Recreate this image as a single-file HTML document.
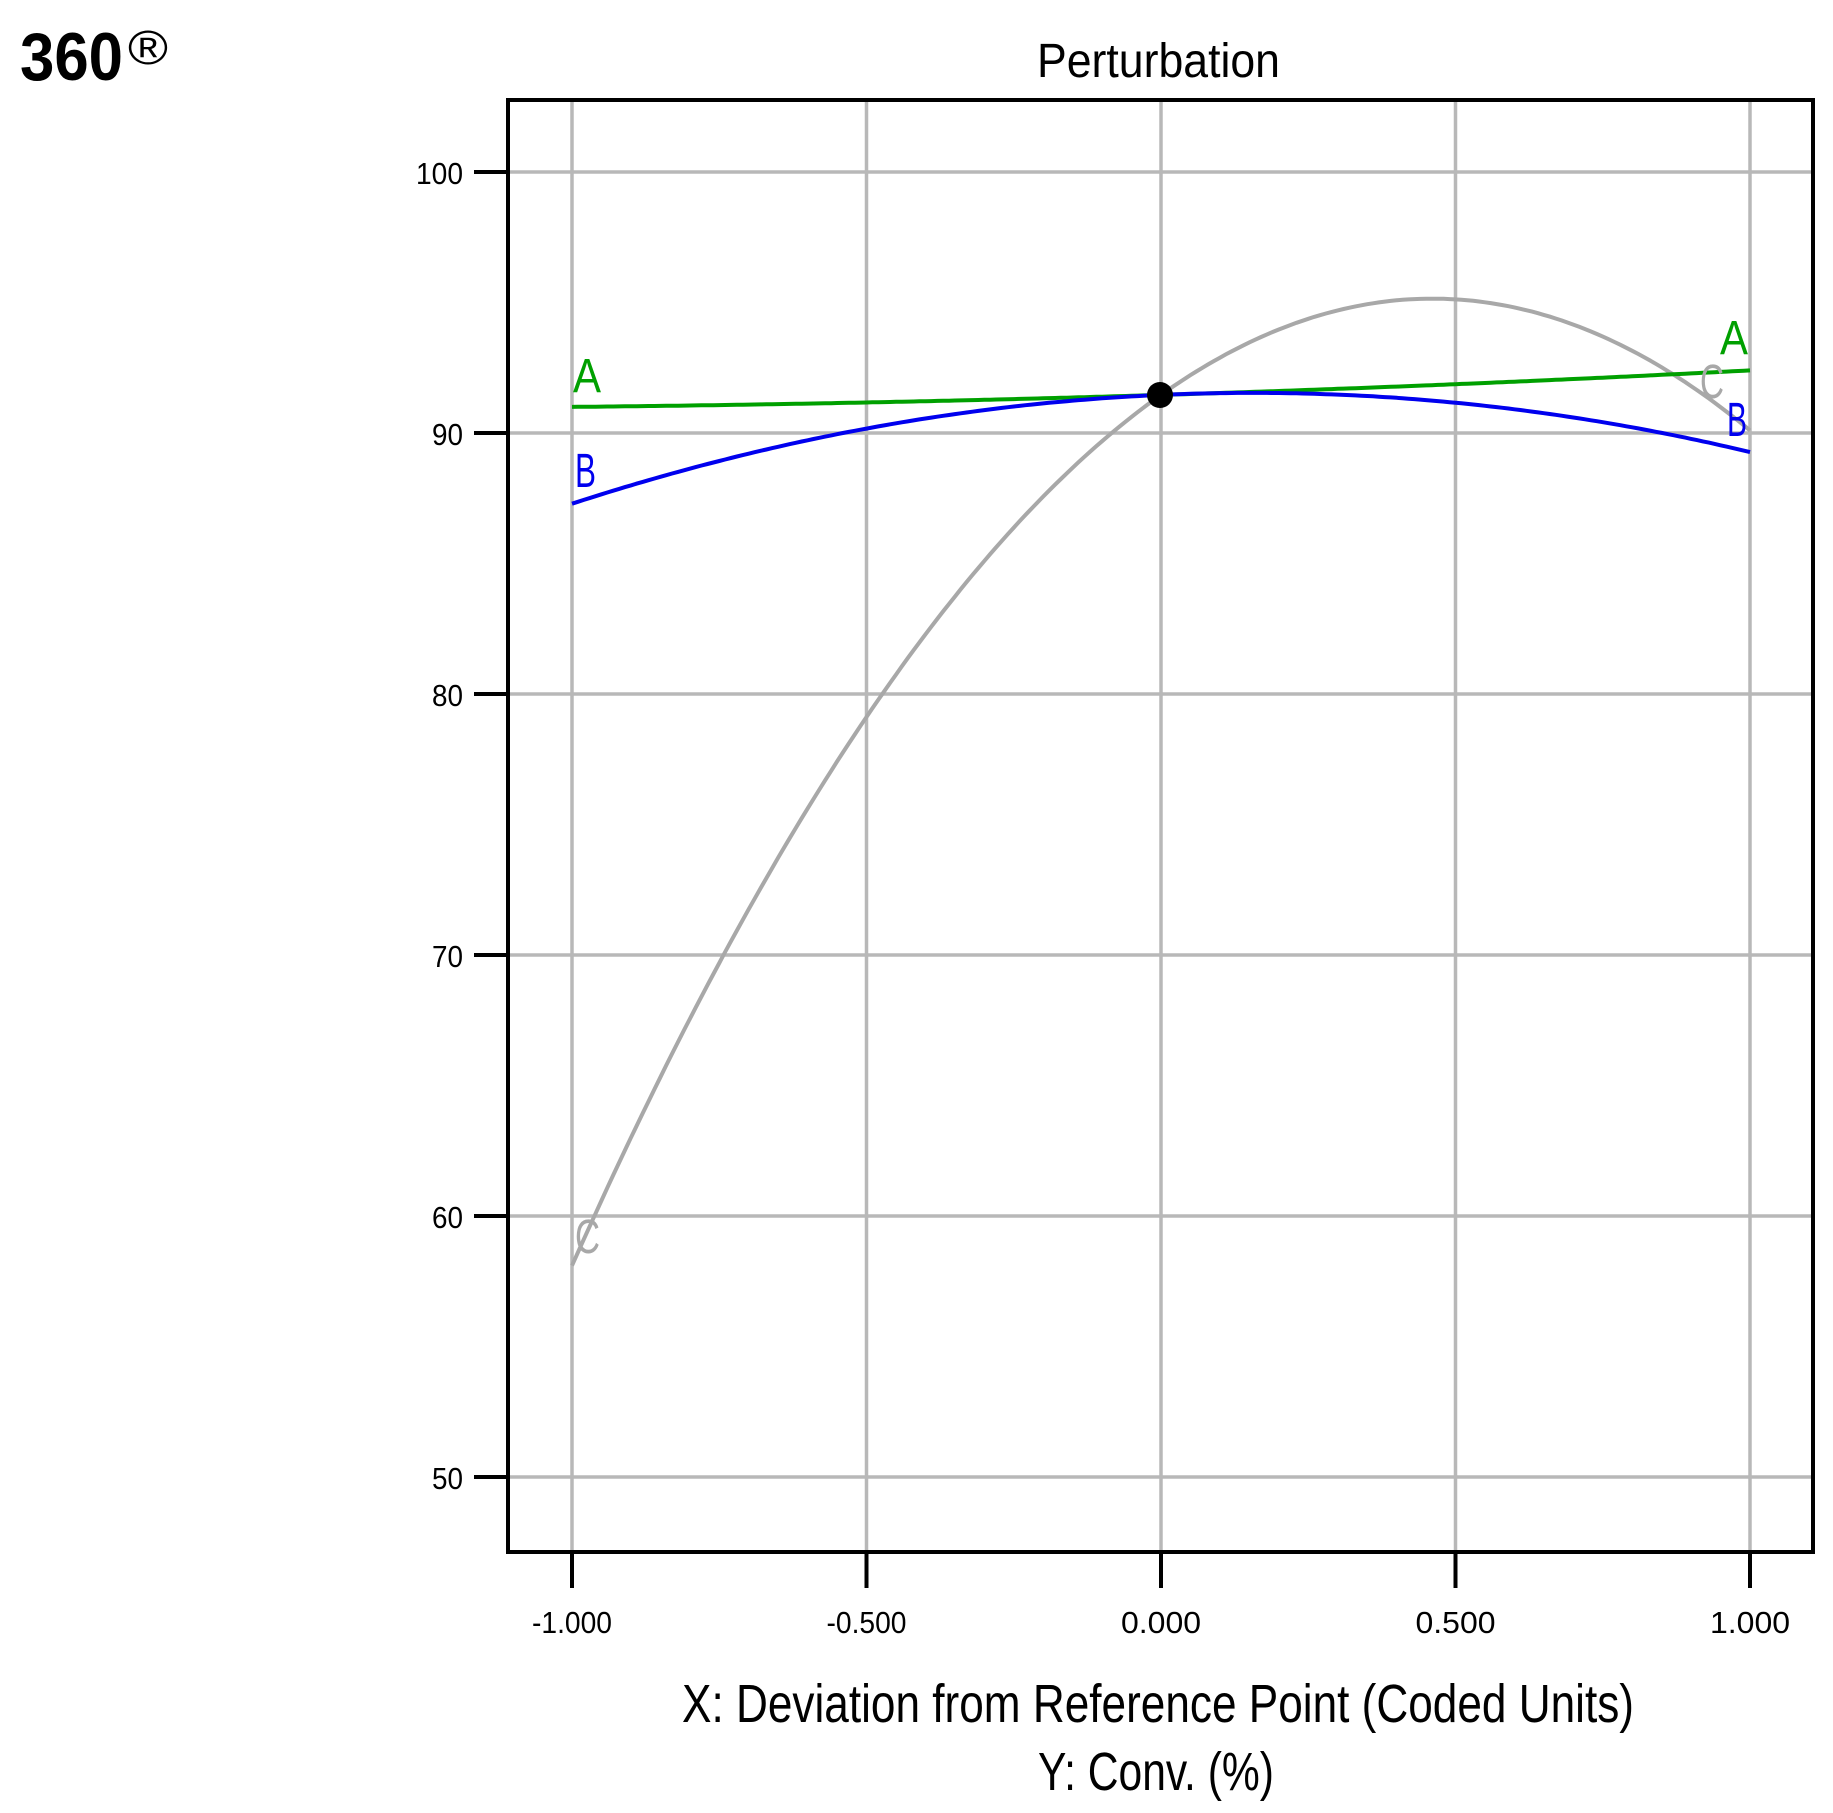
<!DOCTYPE html>
<html><head><meta charset="utf-8"><style>
html,body{margin:0;padding:0;background:#fff;}
svg{display:block;}
text{font-family:"Liberation Sans",sans-serif;}
</style></head><body>
<svg id="s" width="1833" height="1813" viewBox="0 0 1833 1813" xmlns="http://www.w3.org/2000/svg">
<text x="20" y="80" font-size="68" font-weight="bold" textLength="103" lengthAdjust="spacingAndGlyphs">360</text>
<text x="128" y="64" font-size="48" textLength="40" lengthAdjust="spacingAndGlyphs">®</text>
<text x="1037" y="77" font-size="48" textLength="243" lengthAdjust="spacingAndGlyphs">Perturbation</text>
<g id="grid" stroke="#b8b8b8" stroke-width="3.5"></g>
<g id="ticks" stroke="#000" stroke-width="4"></g>
<g id="labels" font-size="31" fill="#000"></g>
<rect x="508" y="100" width="1305" height="1452" fill="none" stroke="#000" stroke-width="4"/>
<path id="pC" fill="none" stroke="#a8a8a8" stroke-width="4"/>
<path id="pA" fill="none" stroke="#00a000" stroke-width="4"/>
<path id="pB" fill="none" stroke="#0000ee" stroke-width="4"/>
<circle cx="1160" cy="395" r="13" fill="#000"/>
<g font-size="48">
<text x="573" y="392" fill="#00a000" textLength="28" lengthAdjust="spacingAndGlyphs">A</text>
<text x="575" y="487" fill="#0000ee" textLength="21" lengthAdjust="spacingAndGlyphs">B</text>
<text x="575" y="1253" fill="#a8a8a8" textLength="25" lengthAdjust="spacingAndGlyphs">C</text>
<text x="1720" y="354" fill="#00a000" textLength="28" lengthAdjust="spacingAndGlyphs">A</text>
<text x="1700" y="398" fill="#a8a8a8" textLength="24" lengthAdjust="spacingAndGlyphs">C</text>
<text x="1727" y="436" fill="#0000ee" textLength="20" lengthAdjust="spacingAndGlyphs">B</text>
</g>
<text x="682" y="1722" font-size="54" textLength="952" lengthAdjust="spacingAndGlyphs">X: Deviation from Reference Point (Coded Units)</text>
<text x="1038" y="1790" font-size="54" textLength="236" lengthAdjust="spacingAndGlyphs">Y: Conv. (%)</text>
</svg>
<script>
var NS="http://www.w3.org/2000/svg";
function X(u){return 572+589*(u+1);}
function Y(v){return 172+(100-v)*26.1;}
function el(p,t,a,txt){var e=document.createElementNS(NS,t);for(var k in a)e.setAttribute(k,a[k]);if(txt)e.textContent=txt;document.getElementById(p).appendChild(e);}
var xs=[-1,-0.5,0,0.5,1],xl=["-1.000","-0.500","0.000","0.500","1.000"];
xs.forEach(function(u,i){var x=X(u);el("grid","line",{x1:x,y1:100,x2:x,y2:1552});el("ticks","line",{x1:x,y1:1552,x2:x,y2:1588});
el("labels","text",{x:x,y:1633,"text-anchor":"middle",textLength:80,lengthAdjust:"spacingAndGlyphs"},xl[i]);});
[100,90,80,70,60,50].forEach(function(v){var y=Y(v);el("grid","line",{x1:508,y1:y,x2:1813,y2:y});el("ticks","line",{x1:474,y1:y,x2:508,y2:y});
var s=String(v);el("labels","text",{x:463,y:y+12,"text-anchor":"end",textLength:s.length==3?47:31,lengthAdjust:"spacingAndGlyphs"},s);});
function curve(id,a,b,c){var d="";for(var i=0;i<=200;i++){var u=-1+i/100;var v=a*u*u+b*u+c;d+=(i?"L":"M")+X(u).toFixed(1)+" "+Y(v).toFixed(1);}document.getElementById(id).setAttribute("d",d);}
curve("pA",0.24,0.7,91.46);
curve("pB",-3.18,0.99,91.46);
curve("pC",-17.36,16.0,91.46);
</script>
</body></html>
